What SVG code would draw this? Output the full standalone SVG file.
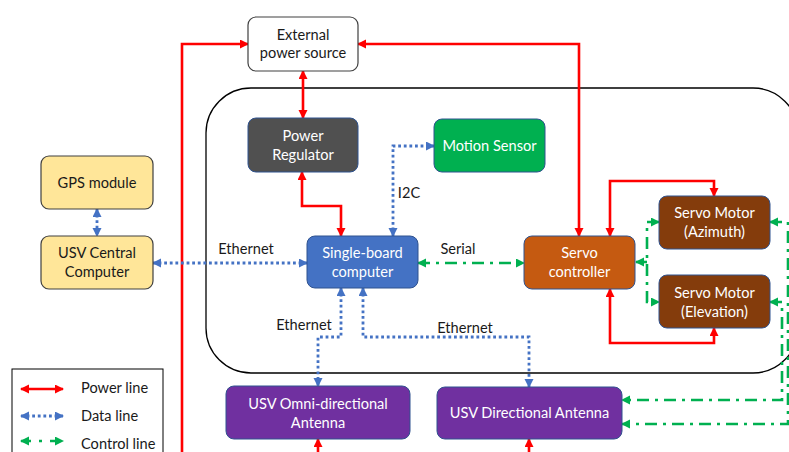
<svg xmlns="http://www.w3.org/2000/svg" width="789" height="452" viewBox="0 0 789 452">
<style>
text{font-family:Lato,"Liberation Sans",sans-serif;font-size:14.6px;text-anchor:middle;}
.w{fill:#fff;}
.k{fill:#1a1a1a;}
.bx{stroke:#2f528f;stroke-width:1;}
.p{fill:none;stroke:#ff0000;stroke-width:2.6;marker-start:url(#ar);marker-end:url(#ar);}
.d{fill:none;stroke:#4472c4;stroke-width:2.8;stroke-dasharray:2.8 2.8;marker-start:url(#ab);marker-end:url(#ab);}
.c{fill:none;stroke:#00b050;stroke-width:2.6;stroke-dasharray:12 6 3 6;marker-start:url(#ag);marker-end:url(#ag);}
</style>
<defs>
<marker id="ar" markerUnits="userSpaceOnUse" markerWidth="10" markerHeight="10" refX="8" refY="4.5" orient="auto-start-reverse"><path d="M0,0 L9,4.5 L0,9 z" fill="#ff0000"/></marker>
<marker id="ab" markerUnits="userSpaceOnUse" markerWidth="10" markerHeight="10" refX="8" refY="4.5" orient="auto-start-reverse"><path d="M0,0 L9,4.5 L0,9 z" fill="#4472c4"/></marker>
<marker id="ag" markerUnits="userSpaceOnUse" markerWidth="10" markerHeight="10" refX="8" refY="4.5" orient="auto-start-reverse"><path d="M0,0 L9,4.5 L0,9 z" fill="#00b050"/></marker>
</defs>
<rect width="789" height="452" fill="#fff"/>
<rect id="container" x="206" y="88" width="592" height="285" rx="45" fill="none" stroke="#000" stroke-width="1.3"/>
<g id="legend">
<rect x="12" y="369" width="151" height="95" fill="#fff" stroke="#000" stroke-width="1"/>
<path class="p" d="M21,389 H63"/>
<path class="d" d="M21,416 H63"/>
<path class="c" d="M21,441 H63" style="stroke-dasharray:10 8 3 8"/>
<text class="k" x="81" y="393" style="text-anchor:start">Power line</text>
<text class="k" x="81" y="421" style="text-anchor:start">Data line</text>
<text class="k" x="81" y="449" style="text-anchor:start">Control line</text>
</g>
<g id="connectors">
<path class="p" d="M182,452 V44 H248" style="marker-start:none"/>
<path class="p" d="M358,44 H579 V236"/>
<path class="p" d="M303,71 V118"/>
<path class="p" d="M302,172 V206 H341 V236"/>
<path class="p" d="M610,236 V181 H714 V196"/>
<path class="p" d="M610,289 V343 H714 V328"/>
<path class="p" d="M318,452 V439" style="marker-start:none"/>
<path class="p" d="M529,452 V439" style="marker-start:none"/>
<path class="d" d="M97,209 V236"/>
<path class="d" d="M153,263 H307"/>
<path class="d" d="M393,236 V146 H434"/>
<path class="d" d="M341,288 V337 H318 V386"/>
<path class="d" d="M363,288 V337 H529 V387"/>
<path class="c" d="M418,263 H524"/>
<path class="c" d="M636,262 H647" style="marker-end:none"/>
<path class="c" d="M659,222 H647 V302 H659"/>
<path class="c" d="M770,222 H788 V424 H622"/>
<path class="c" d="M770,302 H782 V400 H622"/>
<text class="k" x="246" y="254">Ethernet</text>
<text class="k" x="409" y="198">I2C</text>
<text class="k" x="458" y="254">Serial</text>
<text class="k" x="304" y="330">Ethernet</text>
<text class="k" x="465" y="333">Ethernet</text>
</g>
<g id="external-power">
<rect x="248" y="17" width="110" height="54" rx="8" fill="#fff" stroke="#404040" stroke-width="1.2"/>
<text class="k" x="303" y="40">External</text>
<text class="k" x="303" y="58">power source</text>
</g>
<g id="power-regulator">
<rect class="bx" x="248" y="118" width="110" height="54" rx="8" fill="#505050"/>
<text class="w" x="303" y="141">Power</text>
<text class="w" x="303" y="160">Regulator</text>
</g>
<g id="motion-sensor">
<rect class="bx" x="434" y="119" width="111" height="53" rx="8" fill="#00b050"/>
<text class="w" x="489.5" y="150.5">Motion Sensor</text>
</g>
<g id="gps">
<rect x="41" y="156" width="112" height="53" rx="8" fill="#ffe699" stroke="#404040" stroke-width="1.2"/>
<text class="k" x="97" y="187.5">GPS module</text>
</g>
<g id="usv-central">
<rect x="41" y="236" width="112" height="53" rx="8" fill="#ffe699" stroke="#404040" stroke-width="1.2"/>
<text class="k" x="97" y="258">USV Central</text>
<text class="k" x="97" y="277">Computer</text>
</g>
<g id="sbc">
<rect class="bx" x="307" y="236" width="111" height="52" rx="8" fill="#4472c4"/>
<text class="w" x="362.5" y="258">Single-board</text>
<text class="w" x="362.5" y="277">computer</text>
</g>
<g id="servo-controller">
<rect class="bx" x="524" y="236" width="111" height="53" rx="8" fill="#c55a11"/>
<text class="w" x="579.5" y="258">Servo</text>
<text class="w" x="579.5" y="277">controller</text>
</g>
<g id="servo-azimuth">
<rect class="bx" x="659" y="196" width="111" height="53" rx="8" fill="#843c0c"/>
<text class="w" x="714.5" y="218">Servo Motor</text>
<text class="w" x="714.5" y="237">(Azimuth)</text>
</g>
<g id="servo-elevation">
<rect class="bx" x="659" y="275" width="111" height="53" rx="8" fill="#843c0c"/>
<text class="w" x="714.5" y="298">Servo Motor</text>
<text class="w" x="714.5" y="317">(Elevation)</text>
</g>
<g id="omni-antenna">
<rect class="bx" x="226" y="386" width="184" height="53" rx="8" fill="#7030a0"/>
<text class="w" x="318" y="409">USV Omni-directional</text>
<text class="w" x="318" y="428">Antenna</text>
</g>
<g id="directional-antenna">
<rect class="bx" x="437" y="387" width="185" height="52" rx="8" fill="#7030a0"/>
<text class="w" x="529.5" y="418">USV Directional Antenna</text>
</g>
</svg>
